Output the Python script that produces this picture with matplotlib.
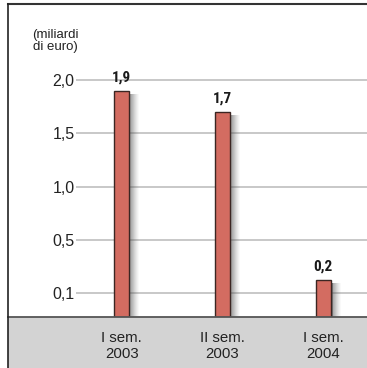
import numpy as np
import matplotlib
matplotlib.use("Agg")
import matplotlib.pyplot as plt
from matplotlib import font_manager
from matplotlib.patches import Rectangle
from matplotlib.lines import Line2D
from matplotlib.transforms import ScaledTranslation

# Data
categories = ["I sem.\n2003", "II sem.\n2003", "I sem.\n2004"]
values = [1.9, 1.7, 0.2]
ytick_values = [0.1, 0.5, 1.0, 1.5, 2.0]
ytick_labels = ["0,1", "0,5", "1,0", "1,5", "2,0"]
unit_label = "(miliardi\ndi euro)"

# regular text in a Helvetica-like face, value labels in a narrow bold face
plt.rcParams["font.family"] = ["Liberation Sans", "DejaVu Sans"]

fonts = font_manager.fontManager.ttflist
names = {(f.name, f.stretch) for f in fonts}
bold_family = "Liberation Sans"
bold_stretch = "normal"
for cand in ("Liberation Sans Narrow", "Roboto Condensed", "Open Sans Condensed"):
    if any(n == cand for n, _ in names):
        bold_family = cand
        break
else:
    if any(n == "DejaVu Sans" and s == "condensed" for n, s in names):
        bold_family, bold_stretch = "DejaVu Sans", "condensed"
value_font = font_manager.FontProperties(family=[bold_family, "DejaVu Sans"],
                                         stretch=bold_stretch, weight="bold", size=11)

W, H = 367, 368
DPI = 100
fig = plt.figure(figsize=(W / DPI, H / DPI), dpi=DPI)
fig.patch.set_facecolor("white")

base_px = 317.3
top_px = 3.5
left_px = 76
ax = fig.add_axes([left_px / W, (H - base_px) / H, (W - left_px) / W, (base_px - top_px) / H])

# Broken-style vertical scale: the low band (0 .. 0,1 .. 0,5) is stretched
data_anchor = [0.0, 0.1, 0.5, 3.0]
pos_anchor = [-0.45, 0.0, 1.0, 6.0]


def fwd(y):
    return np.interp(y, data_anchor, pos_anchor)


def inv(p):
    return np.interp(p, pos_anchor, data_anchor)


ax.set_yscale("function", functions=(fwd, inv))
ax.set_ylim(0.0, 2.717)
ax.set_xlim(-0.455, 2.437)

ax.set_yticks(ytick_values, ytick_labels)
ax.set_xticks(range(len(categories)), categories)
ax.tick_params(axis="y", length=0, pad=1.0, labelsize=11.5, labelcolor="#222222")
ax.tick_params(axis="x", length=0, pad=10, labelsize=10.8, labelcolor="#222222")
ax.yaxis.grid(True, color="#bfbfbf", linewidth=1.2)
ax.set_axisbelow(True)
for s in ax.spines.values():
    s.set_visible(False)

x = np.arange(len(values))
bar_w = 0.149
px = 1.0 / 100.6  # one pixel in x data units

# soft drop shadow on the right of every bar
shadow_tr = ax.transData + ScaledTranslation(0, -3 / DPI, fig.dpi_scale_trans)
n_steps = 10
for k in range(n_steps):
    a = 0.6 * (1 - k / n_steps) ** 1.3
    ax.bar(x + bar_w / 2 + (k + 0.5) * px, values, width=px * 1.05,
           color="#4a4a4a", alpha=a, linewidth=0, zorder=2, transform=shadow_tr)

ax.bar(x, values, width=bar_w, color="#d36c61", edgecolor="#3b2623",
       linewidth=1.0, zorder=3)

for xi, v in zip(x, values):
    ax.annotate(f"{v:.1f}".replace(".", ","), (xi, v), xytext=(0, 9.5),
                textcoords="offset points", ha="center", va="center",
                fontproperties=value_font, color="#1a1a1a")

# grey band under the baseline and the frame lines
fig.patches.append(Rectangle((8 / W, 0), (W - 8) / W, (H - base_px) / H,
                             transform=fig.transFigure, facecolor="#d3d3d3",
                             edgecolor="none", zorder=-1))
fig.lines.append(Line2D([8 / W, 1], [(H - base_px) / H] * 2, transform=fig.transFigure,
                        color="#555555", linewidth=1.3, zorder=5))
fig.lines.append(Line2D([8 / W, 1], [(H - top_px) / H] * 2, transform=fig.transFigure,
                        color="#333333", linewidth=1.5, zorder=5))
fig.lines.append(Line2D([8 / W] * 2, [0, (H - top_px) / H], transform=fig.transFigure,
                        color="#222222", linewidth=1.2, zorder=5))

fig.text(55 / W, 1 - 41 / H, unit_label, ha="center", va="center",
         multialignment="center", fontsize=9.5, color="#222222", linespacing=0.95)

fig.savefig("out.png", dpi=DPI)
